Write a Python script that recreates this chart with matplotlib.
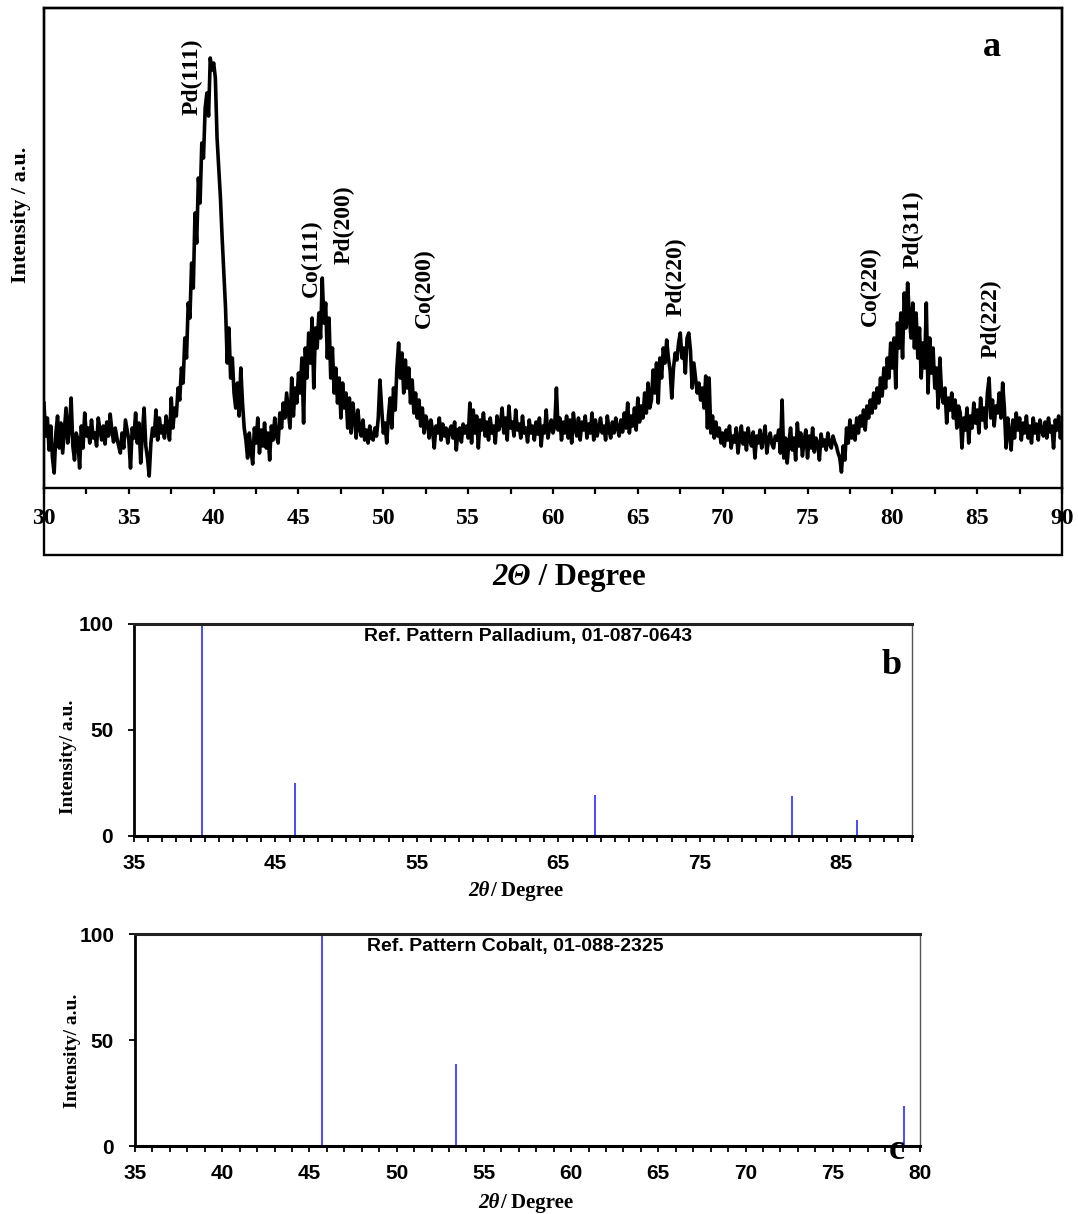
import matplotlib
matplotlib.use('Agg')
import matplotlib.pyplot as plt
from matplotlib.patches import Rectangle
from matplotlib.ticker import MultipleLocator
import numpy as np

# (a) measured XRD scan, intensity (a.u.) at 0.1 deg steps, 30.0 -> 90.0
xrd_counts = [
    85, 52, 70, 38, 62, 30, 15, 55, 72, 40,        # 30
    65, 35, 58, 80, 45, 60, 90, 42, 28, 55,        # 31
    48, 20, 62, 40, 75, 52, 60, 45, 68, 50,        # 32
    55, 42, 70, 58, 48, 62, 44, 66, 52, 74,        # 33
    58, 46, 60, 50, 42, 35, 55, 40, 68, 58,        # 34
    48, 20, 60, 50, 75, 45, 65, 25, 55, 80,        # 35
    42, 30, 12, 45, 60, 52, 78, 48, 70, 55,        # 36
    62, 50, 72, 58, 48, 90, 60, 80, 72, 100,       # 37
    88, 120, 105, 150, 130, 185, 170, 225, 200, 275,   # 38
    245, 310, 285, 345, 330, 380, 395, 372, 430, 418,  # 39
    425, 410, 350, 320, 290, 250, 215, 180, 125, 160,  # 40
    110, 130, 95, 80, 105, 72, 120, 85, 60, 48,    # 41
    30, 55, 38, 24, 60, 45, 70, 35, 58, 42,        # 42
    65, 40, 55, 28, 62, 48, 70, 52, 45, 75,        # 43
    60, 85, 70, 95, 78, 60, 110, 72, 100, 85,      # 44
    115, 95, 130, 65, 140, 110, 155, 125, 170, 100,    # 45
    160, 140, 175, 150, 210, 165, 185, 130, 170, 110,  # 46
    140, 95, 120, 85, 110, 70, 105, 80, 95, 60,    # 47
    90, 55, 85, 70, 50, 78, 60, 52, 68, 48,        # 48
    58, 45, 62, 50, 48, 60, 52, 70, 108, 80,       # 49
    55, 65, 45, 72, 90, 60, 100, 78, 120, 145,     # 50
    110, 135, 95, 128, 100, 120, 85, 108, 75, 95,  # 51
    70, 88, 62, 80, 55, 72, 65, 50, 68, 58,        # 52
    40, 62, 55, 70, 48, 64, 52, 60, 45, 58,        # 53
    62, 50, 66, 38, 58, 60, 46, 64, 55, 62,        # 54
    50, 85, 45, 78, 55, 72, 40, 68, 58, 75,        # 55
    52, 66, 48, 70, 55, 62, 45, 72, 58, 64,        # 56
    80, 55, 70, 48, 82, 60, 66, 52, 78, 58,        # 57
    64, 50, 72, 55, 60, 46, 68, 55, 62, 48,        # 58
    66, 54, 70, 42, 62, 55, 78, 50, 60, 68,        # 59
    55, 62, 100, 58, 70, 48, 66, 55, 72, 50,       # 60
    68, 45, 75, 60, 52, 70, 48, 66, 58, 72,        # 61
    50, 64, 55, 75, 48, 68, 52, 60, 70, 55,        # 62
    62, 48, 72, 58, 50, 66, 55, 70, 60, 52,        # 63
    68, 56, 75, 60, 85, 55, 72, 62, 80, 58,        # 64
    90, 66, 82, 70, 95, 75, 105, 80, 88, 118,      # 65
    95, 125, 85, 130, 110, 140, 125, 148, 130, 118,    # 66
    90, 120, 135, 128, 145, 155, 130, 140, 115, 150,   # 67
    155, 138, 100, 125, 110, 95, 105, 88, 100, 80,     # 68
    112, 60, 110, 55, 72, 50, 66, 52, 60, 45,      # 69
    55, 42, 58, 48, 62, 40, 52, 46, 60, 35,        # 70
    50, 62, 44, 55, 38, 60, 48, 42, 56, 30,        # 71
    52, 45, 58, 40, 50, 62, 35, 48, 55, 44,        # 72
    40, 52, 48, 58, 35, 88, 30, 50, 25, 45,        # 73
    60, 38, 50, 28, 65, 42, 55, 32, 48, 58,        # 74
    30, 52, 40, 60, 36, 50, 45, 28, 54, 42,        # 75
    48, 38, 55, 44, 40, 52, 46, 42, 35, 30,        # 76
    16, 42, 28, 60, 45, 68, 50, 62, 48, 70,        # 77
    55, 72, 62, 78, 58, 82, 70, 88, 75, 95,        # 78
    80, 100, 85, 110, 92, 120, 100, 130, 110, 145,     # 79
    120, 150, 100, 165, 140, 175, 130, 195, 160, 205,  # 80
    170, 150, 185, 140, 175, 130, 160, 110, 145, 120,  # 81
    185, 95, 150, 115, 140, 100, 120, 80, 130, 95,     # 82
    85, 100, 65, 90, 78, 95, 70, 88, 60, 82,       # 83
    75, 40, 70, 58, 80, 45, 72, 60, 85, 65,        # 84
    78, 55, 90, 68, 80, 60, 95, 110, 70, 88,       # 85
    62, 82, 75, 95, 70, 105, 80, 40, 70, 55,       # 86
    38, 68, 50, 75, 58, 70, 48, 65, 55, 72,        # 87
    50, 62, 45, 70, 55, 64, 48, 68, 58, 52,        # 88
    66, 50, 70, 56, 62, 40, 68, 58, 72, 50,        # 89
    62,                                            # 90
]
two_theta = np.round(np.arange(30.0, 90.01, 0.1), 1)

# peak assignments in (a)
peak_names = ['Pd(111)', 'Co(111)', 'Pd(200)', 'Co(200)',
              'Pd(220)', 'Co(220)', 'Pd(311)', 'Pd(222)']
peak_pos = [38.72, 45.73, 47.68, 52.39, 67.24, 78.73, 81.21, 85.80]
peak_label_y = [373, 191, 224, 160, 172, 162, 220, 130]

# (b) reference pattern Pd 01-087-0643
pd_ref_pos = [39.8, 46.4, 67.6, 81.5, 86.1]
pd_ref_int = [100, 25, 19.3, 18.9, 7.5]

# (c) reference pattern Co 01-088-2325
co_ref_pos = [45.7, 53.4, 79.1]
co_ref_int = [100, 38.7, 18.9]

SERIF = 'Liberation Serif'
NARROW = ['Liberation Sans Narrow', 'Liberation Sans']
STICK = '#3b3bff'

fig = plt.figure(figsize=(10.78, 12.14), dpi=100)

# ---------------- panel a ----------------
ax = fig.add_axes([0.0408, 0.598, 0.9444, 0.3954])
ax.plot(two_theta, xrd_counts, color='black', lw=2.6)
ax.set_xlim(30, 90)
ax.set_ylim(0, 480)
ax.set_yticks([])
ax.xaxis.set_major_locator(MultipleLocator(5))
ax.xaxis.set_minor_locator(MultipleLocator(2.5))
ax.tick_params(axis='x', which='both', direction='out', length=4.5, width=1.6, pad=10)
for lab in ax.get_xticklabels():
    lab.set_fontfamily(SERIF)
    lab.set_fontweight('bold')
    lab.set_fontsize(17)
for sp in ax.spines.values():
    sp.set_linewidth(1.7)

for name, x, y in zip(peak_names, peak_pos, peak_label_y):
    ax.text(x, y, name, rotation=90, ha='center', va='bottom',
            family=SERIF, weight='bold', fontsize=17)

fig.add_artist(Rectangle((0.0408, 1 - 555 / 1214), 0.9444, (555 - 8) / 1214,
                         transform=fig.transFigure, fill=False, lw=1.7, ec='black'))

fig.text(0.0195, 0.8229, 'Intensity / a.u.', rotation=90, ha='center', va='center',
         family=SERIF, weight='bold', fontsize=16)
fig.text(0.4925, 0.5247, '2\u0398', ha='right', va='center', family=SERIF,
         weight='bold', style='italic', fontsize=22)
fig.text(0.4925, 0.5247, ' / Degree', ha='left', va='center', family=SERIF,
         weight='bold', fontsize=22)
fig.text(0.9202, 0.9605, 'a', ha='center', va='center', family=SERIF,
         weight='bold', fontsize=26)


# ---------------- reference panels ----------------
def ref_panel(rect, pos, inten, xmax, major, title, xlab_x, xlab_y, ylab_x, ylab_y):
    axr = fig.add_axes(rect)
    axr.vlines(pos, 0, inten, color=STICK, lw=1.3, clip_on=False)
    axr.set_xlim(35, xmax)
    axr.set_ylim(0, 100)
    axr.set_yticks([0, 50, 100])
    axr.xaxis.set_major_locator(MultipleLocator(major))
    axr.xaxis.set_minor_locator(MultipleLocator(1))
    axr.set_xticks(np.arange(35, xmax + 0.1, major))
    axr.tick_params(axis='x', which='both', direction='out', length=4, width=1.3, pad=9)
    axr.tick_params(axis='y', which='both', direction='out', length=4, width=1.3, pad=11)
    for lab in axr.get_xticklabels() + axr.get_yticklabels():
        lab.set_fontfamily(NARROW)
        lab.set_fontweight('bold')
        lab.set_fontsize(15)
    axr.spines['left'].set_linewidth(2)
    axr.spines['bottom'].set_linewidth(2.2)
    axr.spines['top'].set_linewidth(2.2)
    axr.spines['top'].set_color('#222222')
    axr.spines['right'].set_linewidth(1)
    axr.spines['right'].set_color('#555555')
    axr.text(0.295, 0.94, title, transform=axr.transAxes, ha='left', va='center',
             family=NARROW, weight='bold', fontsize=14)
    fig.text(xlab_x, xlab_y, '2\u03b8', ha='right', va='center', family=SERIF,
             weight='bold', style='italic', fontsize=15)
    fig.text(xlab_x, xlab_y, '/ Degree', ha='left', va='center', family=SERIF,
             weight='bold', fontsize=15)
    fig.text(ylab_x, ylab_y, 'Intensity/ a.u.', rotation=90, ha='center', va='center',
             family=SERIF, weight='bold', fontsize=14)
    return axr


ref_panel([0.1243, 0.3114, 0.7217, 0.1746], pd_ref_pos, pd_ref_int, 90, 10,
          'Ref. Pattern Palladium, 01-087-0643', 0.4545, 0.2661, 0.064, 0.3765)
fig.text(0.8275, 0.4522, 'b', ha='center', va='center', family=SERIF,
         weight='bold', fontsize=26)

ref_panel([0.1252, 0.0560, 0.7282, 0.1746], co_ref_pos, co_ref_int, 80, 5,
          'Ref. Pattern Cobalt, 01-088-2325', 0.4638, 0.0091, 0.0668, 0.1343)
fig.text(0.832, 0.0527, 'c', ha='center', va='center', family=SERIF,
         weight='bold', fontsize=26)

fig.savefig('out.png', dpi=100)
